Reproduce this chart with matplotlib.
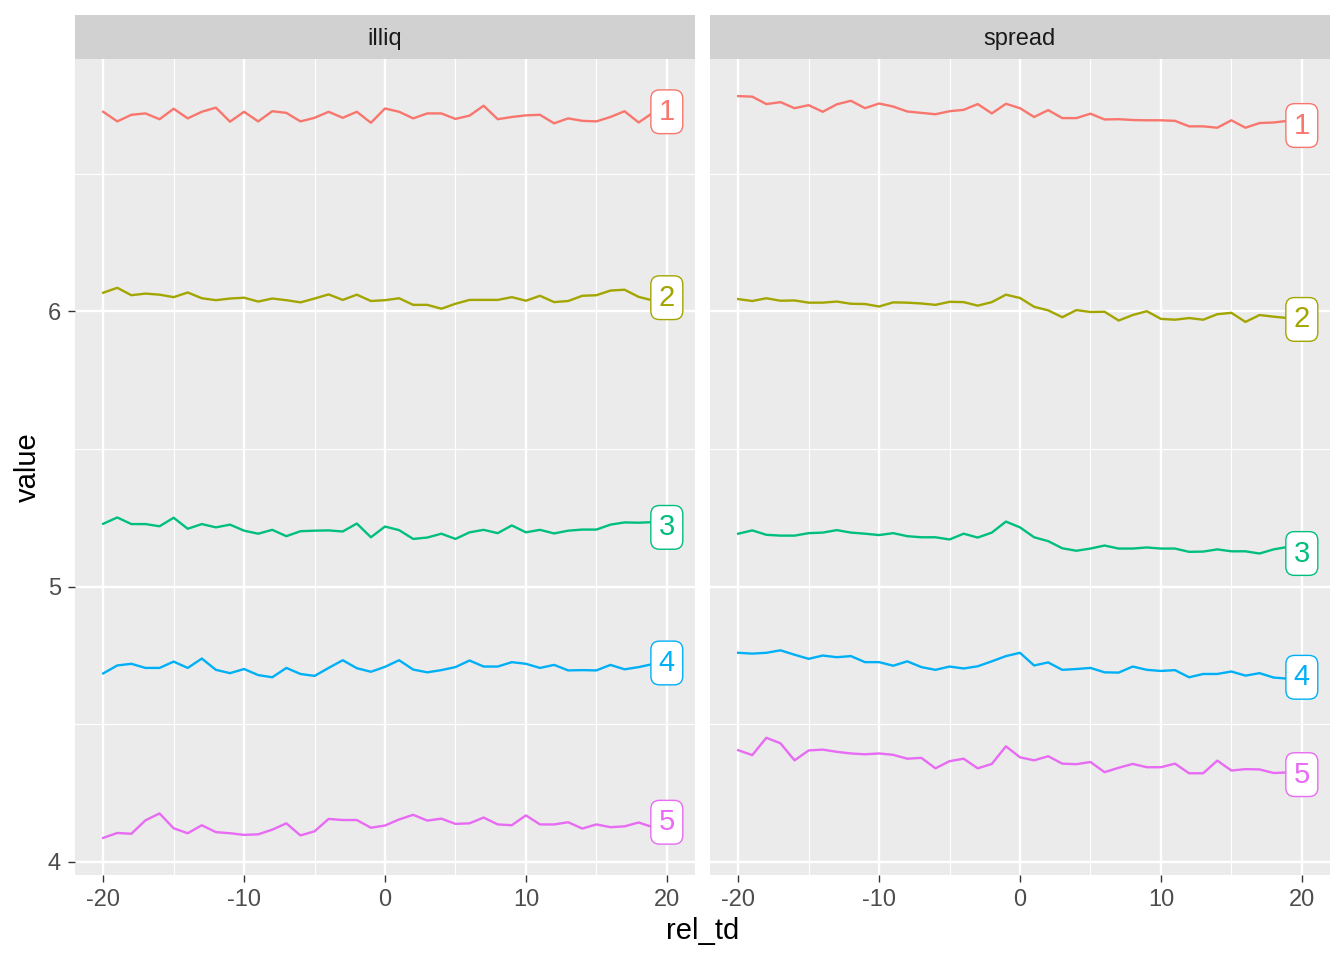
import matplotlib
matplotlib.use('Agg')
import matplotlib.pyplot as plt
import numpy as np

plt.rcParams['font.family'] = ['Liberation Sans', 'DejaVu Sans']
plt.rcParams['axes.unicode_minus'] = False

# relative trading day
rel_td = list(range(-20, 21))
groups = ['1', '2', '3', '4', '5']
colors = ['#F8766D', '#A3A500', '#00BF7D', '#00B0F6', '#E76BF3']
facets = ['illiq', 'spread']

# illiq panel, one list per group
illiq_1 = [6.726, 6.691, 6.715, 6.720, 6.699, 6.737, 6.702, 6.726, 6.741, 6.690, 6.726,
           6.691, 6.728, 6.722, 6.691, 6.704, 6.726, 6.704, 6.726, 6.686, 6.738,
           6.726, 6.702, 6.720, 6.720, 6.700, 6.712, 6.748, 6.699, 6.707, 6.713,
           6.715, 6.684, 6.702, 6.693, 6.691, 6.707, 6.728, 6.687, 6.722, 6.726]
illiq_2 = [6.068, 6.086, 6.059, 6.065, 6.061, 6.052, 6.069, 6.048, 6.041, 6.047, 6.050,
           6.036, 6.047, 6.041, 6.033, 6.047, 6.062, 6.042, 6.061, 6.038, 6.041,
           6.048, 6.024, 6.024, 6.010, 6.028, 6.042, 6.042, 6.042, 6.052, 6.039,
           6.057, 6.034, 6.038, 6.057, 6.059, 6.076, 6.079, 6.053, 6.040, 6.050]
illiq_3 = [5.228, 5.251, 5.227, 5.227, 5.219, 5.250, 5.210, 5.227, 5.215, 5.225, 5.203,
           5.192, 5.206, 5.183, 5.201, 5.203, 5.204, 5.200, 5.229, 5.179, 5.218,
           5.205, 5.173, 5.178, 5.192, 5.173, 5.197, 5.206, 5.194, 5.222, 5.197,
           5.206, 5.193, 5.203, 5.207, 5.207, 5.225, 5.233, 5.232, 5.234, 5.215]
illiq_4 = [4.684, 4.713, 4.719, 4.704, 4.704, 4.727, 4.704, 4.738, 4.697, 4.685, 4.700,
           4.678, 4.670, 4.704, 4.682, 4.675, 4.704, 4.732, 4.703, 4.690, 4.708,
           4.732, 4.698, 4.688, 4.696, 4.707, 4.731, 4.709, 4.709, 4.725, 4.719,
           4.704, 4.715, 4.695, 4.696, 4.695, 4.715, 4.699, 4.707, 4.718, 4.722]
illiq_5 = [4.086, 4.104, 4.101, 4.150, 4.175, 4.121, 4.103, 4.132, 4.107, 4.103, 4.097,
           4.099, 4.116, 4.139, 4.095, 4.110, 4.155, 4.151, 4.151, 4.123, 4.131,
           4.153, 4.170, 4.149, 4.156, 4.137, 4.139, 4.160, 4.135, 4.132, 4.168,
           4.135, 4.135, 4.143, 4.120, 4.135, 4.125, 4.128, 4.142, 4.125, 4.143]

# spread panel
spread_1 = [6.783, 6.781, 6.754, 6.761, 6.739, 6.750, 6.726, 6.753, 6.766, 6.739, 6.756,
            6.745, 6.727, 6.722, 6.717, 6.728, 6.733, 6.754, 6.720, 6.755, 6.739,
            6.707, 6.732, 6.703, 6.703, 6.719, 6.698, 6.699, 6.696, 6.695, 6.695,
            6.693, 6.673, 6.673, 6.668, 6.695, 6.668, 6.685, 6.687, 6.693, 6.676]
spread_2 = [6.045, 6.038, 6.048, 6.039, 6.040, 6.032, 6.032, 6.036, 6.028, 6.027, 6.018,
            6.033, 6.032, 6.029, 6.024, 6.035, 6.034, 6.021, 6.034, 6.061, 6.049,
            6.017, 6.004, 5.979, 6.005, 5.998, 5.999, 5.967, 5.987, 6.001, 5.973,
            5.970, 5.976, 5.970, 5.990, 5.995, 5.962, 5.987, 5.981, 5.976, 5.971]
spread_3 = [5.192, 5.204, 5.188, 5.185, 5.185, 5.194, 5.196, 5.205, 5.196, 5.192, 5.187,
            5.194, 5.183, 5.179, 5.179, 5.171, 5.192, 5.178, 5.196, 5.236, 5.215,
            5.179, 5.165, 5.139, 5.130, 5.138, 5.149, 5.138, 5.138, 5.142, 5.138,
            5.138, 5.126, 5.127, 5.135, 5.128, 5.128, 5.120, 5.135, 5.144, 5.120]
spread_4 = [4.759, 4.756, 4.759, 4.768, 4.752, 4.737, 4.749, 4.743, 4.747, 4.725, 4.725,
            4.712, 4.728, 4.707, 4.697, 4.709, 4.702, 4.710, 4.728, 4.747, 4.759,
            4.713, 4.724, 4.697, 4.700, 4.704, 4.688, 4.687, 4.709, 4.697, 4.693,
            4.696, 4.670, 4.682, 4.682, 4.691, 4.676, 4.685, 4.669, 4.665, 4.670]
spread_5 = [4.405, 4.387, 4.450, 4.430, 4.368, 4.404, 4.407, 4.399, 4.393, 4.390, 4.393,
            4.388, 4.374, 4.377, 4.339, 4.365, 4.374, 4.339, 4.355, 4.419, 4.379,
            4.368, 4.383, 4.356, 4.354, 4.362, 4.325, 4.341, 4.355, 4.343, 4.343,
            4.356, 4.321, 4.321, 4.367, 4.331, 4.336, 4.335, 4.322, 4.324, 4.316]

series = {
    'illiq': [illiq_1, illiq_2, illiq_3, illiq_4, illiq_5],
    'spread': [spread_1, spread_2, spread_3, spread_4, spread_5],
}

all_vals = np.concatenate([np.array(v) for f in facets for v in series[f]])
ymin, ymax = all_vals.min(), all_vals.max()
ypad = (ymax - ymin) * 0.05
xpad = (max(rel_td) - min(rel_td)) * 0.05

fig = plt.figure(figsize=(13.44, 9.6), dpi=100)
W, H = 1344, 960
panel_left = [75, 710]
panel_w = 620
panel_top, panel_bot = 59, 875
strip_top = 15

for i, facet in enumerate(facets):
    x0 = panel_left[i]
    ax = fig.add_axes([x0 / W, 1 - panel_bot / H, panel_w / W, (panel_bot - panel_top) / H])
    ax.set_facecolor('#EBEBEB')
    for s in ax.spines.values():
        s.set_visible(False)
    ax.set_xlim(min(rel_td) - xpad, max(rel_td) + xpad)
    ax.set_ylim(ymin - ypad, ymax + ypad)
    ax.set_xticks([-20, -10, 0, 10, 20])
    ax.set_xticks([-15, -5, 5, 15], minor=True)
    ax.set_yticks([4, 5, 6])
    ax.set_yticks([4.5, 5.5, 6.5], minor=True)
    ax.grid(which='major', color='white', linewidth=1.7)
    ax.grid(which='minor', color='white', linewidth=0.85)
    ax.set_axisbelow(True)
    ax.tick_params(which='minor', length=0)
    ax.tick_params(which='major', length=5, width=1.0, color='#333333',
                   labelsize=17, labelcolor='#4D4D4D', pad=5)
    if i > 0:
        ax.tick_params(axis='y', left=False, labelleft=False)

    for g, vals, col in zip(groups, series[facet], colors):
        ax.plot(rel_td, vals, color=col, linewidth=1.7, zorder=3)
        ax.text(rel_td[-1], vals[-1], g, color=col, fontsize=21,
                ha='center', va='center', zorder=5,
                bbox=dict(boxstyle='round,pad=0.27,rounding_size=0.3',
                          facecolor='white', edgecolor=col, linewidth=1.0))

    # facet strip
    sax = fig.add_axes([x0 / W, 1 - panel_top / H, panel_w / W, (panel_top - strip_top) / H])
    sax.set_facecolor('#D1D1D1')
    sax.set_xticks([])
    sax.set_yticks([])
    for s in sax.spines.values():
        s.set_visible(False)
    sax.text(0.5, 0.45, facet, ha='center', va='center', fontsize=17, color='#1A1A1A',
             transform=sax.transAxes)

fig.text((75 + 1330) / 2 / W, 1 - 931 / H, 'rel_td', ha='center', va='center', fontsize=21)
fig.text(28 / W, 1 - 467 / H, 'value', ha='center', va='center', fontsize=21, rotation=90)

fig.savefig('out.png', dpi=100)
